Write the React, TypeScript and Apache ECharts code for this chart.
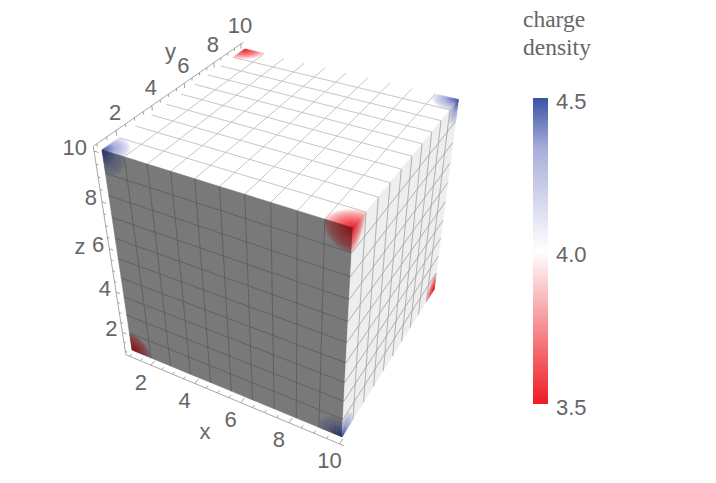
import React, { useEffect, useRef } from "react";
import * as echarts from "echarts";

// ---- data ----
const gridLines = [1, 1.9, 2.8, 3.7, 4.6, 5.5, 6.4, 7.3, 8.2, 9.1, 10];
const majorTicks = [2, 4, 6, 8, 10];
const minorTicks = [1, 1.5, 2.5, 3, 3.5, 4.5, 5, 5.5, 6.5, 7, 7.5, 8.5, 9, 9.5];
const neutralCharge = 4.0;
// [x, y, z, charge] at the cube's corners
const cornerCharges = [
  [1, 1, 10, 4.5],
  [10, 1, 10, 3.5],
  [10, 10, 10, 4.5],
  [1, 10, 10, 3.5],
  [1, 1, 1, 3.5],
  [10, 1, 1, 4.5],
  [10, 10, 1, 3.5],
];
const legendTitle = ["charge", "density"];
const legendTicks = [3.5, 4.0, 4.5];

// ---- styling & projection ----
const TEXT = "#666666";
const SANS = "'Liberation Sans', Arial, sans-serif";
const SERIF = "'Liberation Serif', 'Times New Roman', serif";
const LO = 0.82;
const HI = 10.18;
const ORIGIN = [132, 350];
const VX = [-1719, -416];
const VY = [852, -380];
const VZ = [291, 1409];
const AX = -0.1019;
const AY = 0.198;
const AZ = -0.1589;

function project(x: number, y: number, z: number): number[] {
  const u = ((x - 1) / 9) * AX;
  const v = ((y - 1) / 9) * AY;
  const w = ((z - 1) / 9) * AZ;
  const d = 1 + u + v + w;
  return [
    (ORIGIN[0] + u * VX[0] + v * VY[0] + w * VZ[0]) / d,
    (ORIGIN[1] + u * VX[1] + v * VY[1] + w * VZ[1]) / d,
  ];
}

const BLUE = [57, 83, 164];
const BLUE_MID = [168, 174, 218];
const WHITE = [255, 255, 255];
const RED = [237, 28, 36];
function rampColor(q: number): number[] {
  const t = Math.max(-1, Math.min(1, (q - 4) / 0.5));
  const a = Math.abs(t);
  if (t > 0) {
    return a < 0.67
      ? WHITE.map((w, i) => w + (BLUE_MID[i] - w) * (a / 0.67))
      : BLUE_MID.map((w, i) => w + (BLUE[i] - w) * ((a - 0.67) / 0.33));
  }
  return WHITE.map((w, i) => w + (RED[i] - w) * a);
}
function chargeColor(q: number, shade: number, tintShade: number = shade): string {
  const a = Math.min(1, Math.abs(q - 4) / 0.5);
  const s = shade + (tintShade - shade) * a;
  const c = rampColor(q).map((v) => Math.round(v * s));
  return `rgb(${c[0]},${c[1]},${c[2]})`;
}
function chargeAt(p: number[]): number {
  for (const c of cornerCharges) {
    if (c[0] === p[0] && c[1] === p[1] && c[2] === p[2]) return c[3];
  }
  return neutralCharge;
}

type Face = {
  shade: number;
  tint: number;
  sharp: number;
  line: string;
  at: (s: number, t: number) => number[];
};
const faces: Face[] = [
  { shade: 1, tint: 1, sharp: 0.65, line: "#bcbcbc", at: (s, t) => [s, t, 10] },
  { shade: 0.475, tint: 0.56, sharp: 0.45, line: "#5a5a5a", at: (s, t) => [s, 1, t] },
  { shade: 0.935, tint: 0.95, sharp: 0.65, line: "#a4a4a4", at: (s, t) => [10, s, t] },
];

type Poly = { points: number[][]; fill: string };
const polys: Poly[] = [];
const SUB = 14;
const reach = (ds: number, dt: number, sharp: number) =>
  Math.pow(Math.max(0, 1 - Math.hypot(ds, dt) / 1.05), sharp);
faces.forEach((f) => {
  for (let i = 0; i < gridLines.length - 1; i++) {
    for (let j = 0; j < gridLines.length - 1; j++) {
      const s0 = gridLines[i], s1 = gridLines[i + 1], t0 = gridLines[j], t1 = gridLines[j + 1];
      const q00 = chargeAt(f.at(s0, t0)), q10 = chargeAt(f.at(s1, t0));
      const q01 = chargeAt(f.at(s0, t1)), q11 = chargeAt(f.at(s1, t1));
      const flat = q00 === 4 && q10 === 4 && q01 === 4 && q11 === 4;
      const n = flat ? 1 : SUB;
      for (let a = 0; a < n; a++) {
        for (let b = 0; b < n; b++) {
          const pt = (aa: number, bb: number) => {
            const g = f.at(s0 + ((s1 - s0) * aa) / n, t0 + ((t1 - t0) * bb) / n);
            return project(g[0], g[1], g[2]);
          };
          const sm = (a + 0.5) / n, tm = (b + 0.5) / n;
          const q =
            neutralCharge +
            (q00 - neutralCharge) * reach(sm, tm, f.sharp) +
            (q10 - neutralCharge) * reach(1 - sm, tm, f.sharp) +
            (q01 - neutralCharge) * reach(sm, 1 - tm, f.sharp) +
            (q11 - neutralCharge) * reach(1 - sm, 1 - tm, f.sharp);
          polys.push({
            points: [pt(a, b), pt(a + 1, b), pt(a + 1, b + 1), pt(a, b + 1)],
            fill: chargeColor(q, f.shade, f.tint),
          });
        }
      }
    }
  }
});

type Seg = { a: number[]; b: number[]; color: string; width: number };
const segs: Seg[] = [];
faces.forEach((f) => {
  gridLines.slice(1, -1).forEach((g) => {
    const p1 = f.at(g, 1), p2 = f.at(g, 10), p3 = f.at(1, g), p4 = f.at(10, g);
    segs.push({ a: project(p1[0], p1[1], p1[2]), b: project(p2[0], p2[1], p2[2]), color: f.line, width: 0.85 });
    segs.push({ a: project(p3[0], p3[1], p3[2]), b: project(p4[0], p4[1], p4[2]), color: f.line, width: 0.85 });
  });
});
const AXIS = "#a8a8a8";
const TICK = "#8c8c8c";
const addAxis = (p: (v: number) => number[], tick: number[]) => {
  const a = p(LO), b = p(HI);
  segs.push({ a: project(a[0], a[1], a[2]), b: project(b[0], b[1], b[2]), color: AXIS, width: 1 });
  const add = (v: number, k: number) => {
    const q = p(v);
    segs.push({
      a: project(q[0], q[1], q[2]),
      b: project(q[0] + tick[0] * k, q[1] + tick[1] * k, q[2] + tick[2] * k),
      color: TICK,
      width: 0.8,
    });
  };
  majorTicks.forEach((v) => add(v, 1));
  minorTicks.forEach((v) => add(v, 0.55));
};
const xAxisAt = (v: number) => [v, LO, LO];
const yAxisAt = (v: number) => [LO, v, HI];
const zAxisAt = (v: number) => [LO, LO, v];
addAxis(xAxisAt, [0, 0.25, 0]);
addAxis(yAxisAt, [0, 0, -0.2]);
addAxis(zAxisAt, [0.18, 0, 0]);

type Lbl = { p: number[]; dx: number; dy: number; text: string; align: string };
const labels: Lbl[] = [];
majorTicks.forEach((v) => {
  labels.push({ p: xAxisAt(v), dx: -10, dy: 17, text: String(v), align: "center" });
  labels.push({ p: yAxisAt(v), dx: -1, dy: -18, text: String(v), align: "center" });
  labels.push({ p: zAxisAt(v), dx: v === 10 ? -7 : -5, dy: -4, text: String(v), align: "right" });
});
labels.push({ p: xAxisAt(5.5), dx: -24, dy: 34, text: "x", align: "center" });
labels.push({ p: yAxisAt(5.5), dx: -6, dy: -37, text: "y", align: "center" });
labels.push({ p: zAxisAt(5.5), dx: -31, dy: -13, text: "z", align: "center" });

export default function App() {
  const ref = useRef<HTMLDivElement>(null);
  useEffect(() => {
    const chart = echarts.init(ref.current!, undefined, { renderer: "svg" });
    chart.setOption({
      animation: false,
      grid: { left: 533, top: 98, width: 15, height: 306 },
      xAxis: { type: "category", data: ["charge"], show: false },
      yAxis: {
        type: "value",
        position: "right",
        min: 3.5,
        max: 4.5,
        interval: 0.5,
        axisLine: { show: false },
        axisTick: { show: false },
        splitLine: { show: false },
        axisLabel: {
          color: TEXT,
          fontFamily: SANS,
          fontSize: 22,
          margin: 8,
          verticalAlign: "top",
          lineHeight: 7,
          formatter: (v: number) => (legendTicks.includes(v) ? v.toFixed(1) : ""),
        },
      },
      series: [
        {
          type: "bar",
          data: [4.5],
          barWidth: "100%",
          silent: true,
          itemStyle: {
            color: new echarts.graphic.LinearGradient(0, 0, 0, 1, [
              { offset: 0, color: chargeColor(4.5, 1) },
              { offset: 0.165, color: chargeColor(4.335, 1) },
              { offset: 0.5, color: chargeColor(4, 1) },
              { offset: 1, color: chargeColor(3.5, 1) },
            ]),
          },
        },
        {
          type: "custom",
          coordinateSystem: "none",
          silent: true,
          clip: false,
          data: polys.map((_, i) => [i]),
          renderItem: (params: any) => {
            const c = polys[params.dataIndex];
            return {
              type: "polygon",
              shape: { points: c.points },
              style: { fill: c.fill, stroke: c.fill, lineWidth: 0.6 },
            };
          },
        },
        {
          type: "custom",
          coordinateSystem: "none",
          silent: true,
          clip: false,
          data: segs.map((_, i) => [i]),
          renderItem: (params: any) => {
            const s = segs[params.dataIndex];
            return {
              type: "line",
              shape: { x1: s.a[0], y1: s.a[1], x2: s.b[0], y2: s.b[1] },
              style: { stroke: s.color, lineWidth: s.width },
            };
          },
        },
        {
          type: "custom",
          coordinateSystem: "none",
          silent: true,
          clip: false,
          data: labels.map((_, i) => [i]),
          renderItem: (params: any) => {
            const l = labels[params.dataIndex];
            const q = project(l.p[0], l.p[1], l.p[2]);
            return {
              type: "text",
              x: q[0] + l.dx,
              y: q[1] + l.dy,
              style: {
                text: l.text,
                fill: TEXT,
                font: `22px ${SANS}`,
                textAlign: l.align,
                textVerticalAlign: "middle",
              },
            };
          },
        },
      ],
      graphic: legendTitle.map((t, i) => ({
        type: "text",
        x: 523,
        y: 18.5 + i * 28.5,
        style: {
          text: t,
          fill: TEXT,
          font: `23.5px ${SERIF}`,
          textAlign: "left",
          textVerticalAlign: "middle",
        },
      })),
    });
    return () => chart.dispose();
  }, []);
  return (
    <div
      ref={ref}
      style={{ position: "absolute", left: 0, top: 0, width: 716, height: 483, background: "#fff" }}
    />
  );
}
